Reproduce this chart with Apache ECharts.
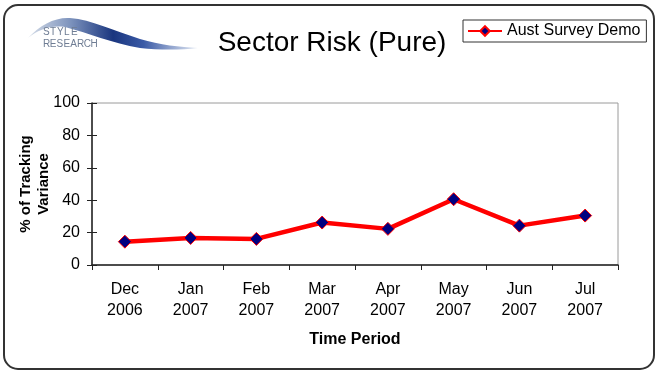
<!DOCTYPE html>
<html>
<head>
<meta charset="utf-8">
<script src="https://cdn.jsdelivr.net/npm/echarts@6/dist/echarts.min.js"></script>
<style>
  html, body { margin: 0; padding: 0; background: #fff; }
  #chart { width: 657px; height: 373px; }
</style>
</head>
<body>
<div id="chart"></div>
<script>
// Monthly sector risk share of tracking variance
const categories = ['Dec\n2006', 'Jan\n2007', 'Feb\n2007', 'Mar\n2007', 'Apr\n2007', 'May\n2007', 'Jun\n2007', 'Jul\n2007'];
const surveyValues = [14.4, 16.7, 16.1, 26.2, 22.3, 40.6, 24.3, 30.5];
const yTicks = [0, 20, 40, 60, 80, 100];
const seriesName = 'Aust Survey Demo';
const chartTitle = 'Sector Risk (Pure)';
const xAxisTitle = 'Time Period';
const yAxisTitle = '% of Tracking\nVariance';

// Logo swoosh outline, registered as a custom graphic shape
const swooshPath = 'M28,38 C40,25 55,17 70,18 C92,20 112,30 140,39 C160,45 180,47 198,48 ' +
                   'C180,50 160,50 140,48 C112,43 88,33 65,27 C50,25 38,30 28,38 Z';
echarts.graphic.registerShape('swoosh', echarts.graphic.extendPath(swooshPath, {}));

const chart = echarts.init(document.getElementById('chart'), null, { renderer: 'canvas' });

// Spaced-out logo lettering, one glyph at a time
function logoLetters(word, x0, y, pitch) {
  return word.split('').map((ch, i) => ({
    type: 'text',
    x: x0 + i * pitch,
    y: y,
    style: {
      text: ch,
      fill: '#6f7d94',
      font: '10px "Liberation Sans", Arial, sans-serif',
      verticalAlign: 'middle'
    }
  }));
}

const sansFont = '"Liberation Sans", Arial, sans-serif';

chart.setOption({
  backgroundColor: '#ffffff',
  animation: false,
  grid: {
    left: 92, right: 39, top: 103, bottom: 108,
    show: true, borderColor: '#9a9a9a', borderWidth: 1
  },
  legend: {
    data: [seriesName],
    left: 463, top: 20,
    padding: [3, 6, 3, 4],
    itemWidth: 34, itemHeight: 12, itemGap: 4,
    borderColor: '#333', borderWidth: 1,
    textStyle: { fontFamily: sansFont, fontSize: 16, color: '#000' }
  },
  xAxis: {
    type: 'category',
    data: categories,
    boundaryGap: true,
    name: xAxisTitle,
    nameLocation: 'middle',
    nameGap: 67,
    nameMoveOverlap: false,
    nameTextStyle: { fontFamily: sansFont, fontSize: 16, fontWeight: 'bold', color: '#000' },
    axisLine: { lineStyle: { color: '#222', width: 1.5 } },
    axisTick: { show: true, length: 5, lineStyle: { color: '#222', width: 1 } },
    axisLabel: { fontFamily: sansFont, fontSize: 16, color: '#000', lineHeight: 21, margin: 14 },
    splitLine: { show: false }
  },
  yAxis: [{
    type: 'value',
    min: 0, max: 100, interval: 20,
    name: yAxisTitle,
    nameLocation: 'middle',
    nameGap: 39,
    nameMoveOverlap: false,
    nameTextStyle: { fontFamily: sansFont, fontSize: 15, fontWeight: 'bold', color: '#000', lineHeight: 18 },
    axisLine: { show: true, lineStyle: { color: '#222', width: 1.5 } },
    axisTick: { show: true, length: 5, lineStyle: { color: '#222', width: 1 } },
    axisLabel: {
      fontFamily: sansFont, fontSize: 16, color: '#000', margin: 12,
      formatter: v => (yTicks.indexOf(v) >= 0 ? String(v) : '')
    },
    splitLine: { show: false }
  }, {
    // inner half of the crossing tick marks
    type: 'value',
    min: 0, max: 100, interval: 20,
    position: 'left',
    axisLine: { show: false },
    axisTick: { show: true, inside: true, length: 5, lineStyle: { color: '#222', width: 1 } },
    axisLabel: { show: false },
    splitLine: { show: false }
  }],
  series: [{
    name: seriesName,
    type: 'line',
    data: surveyValues,
    symbol: 'diamond',
    symbolSize: 13,
    lineStyle: { color: '#ff0000', width: 4.5 },
    itemStyle: { color: '#000080', borderColor: '#ff0000', borderWidth: 1 },
    emphasis: { disabled: true }
  }],
  graphic: [
    {
      // rounded outer frame
      type: 'rect',
      shape: { x: 4, y: 5, width: 650, height: 364, r: 14 },
      style: { fill: 'none', stroke: '#333', lineWidth: 2 },
      z: 10
    },
    {
      type: 'swoosh',
      style: {
        fill: new echarts.graphic.LinearGradient(0, 0, 1, 0, [
          { offset: 0, color: '#d5dde8' },
          { offset: 0.25, color: '#7d93bd' },
          { offset: 0.5, color: '#1a367f' },
          { offset: 0.68, color: '#3a5aa6' },
          { offset: 1, color: '#e6ecf5' }
        ])
      }
    },
    ...logoLetters('STYLE', 43, 32, 7),
    ...logoLetters('RESEARCH', 43, 44, 6.8),
    {
      type: 'text',
      x: 332, y: 43,
      style: {
        text: chartTitle,
        font: '28px "Liberation Sans Narrow", "Arial Narrow", "Liberation Sans", sans-serif',
        fill: '#000',
        align: 'center',
        verticalAlign: 'middle'
      }
    }
  ]
});
</script>
</body>
</html>
